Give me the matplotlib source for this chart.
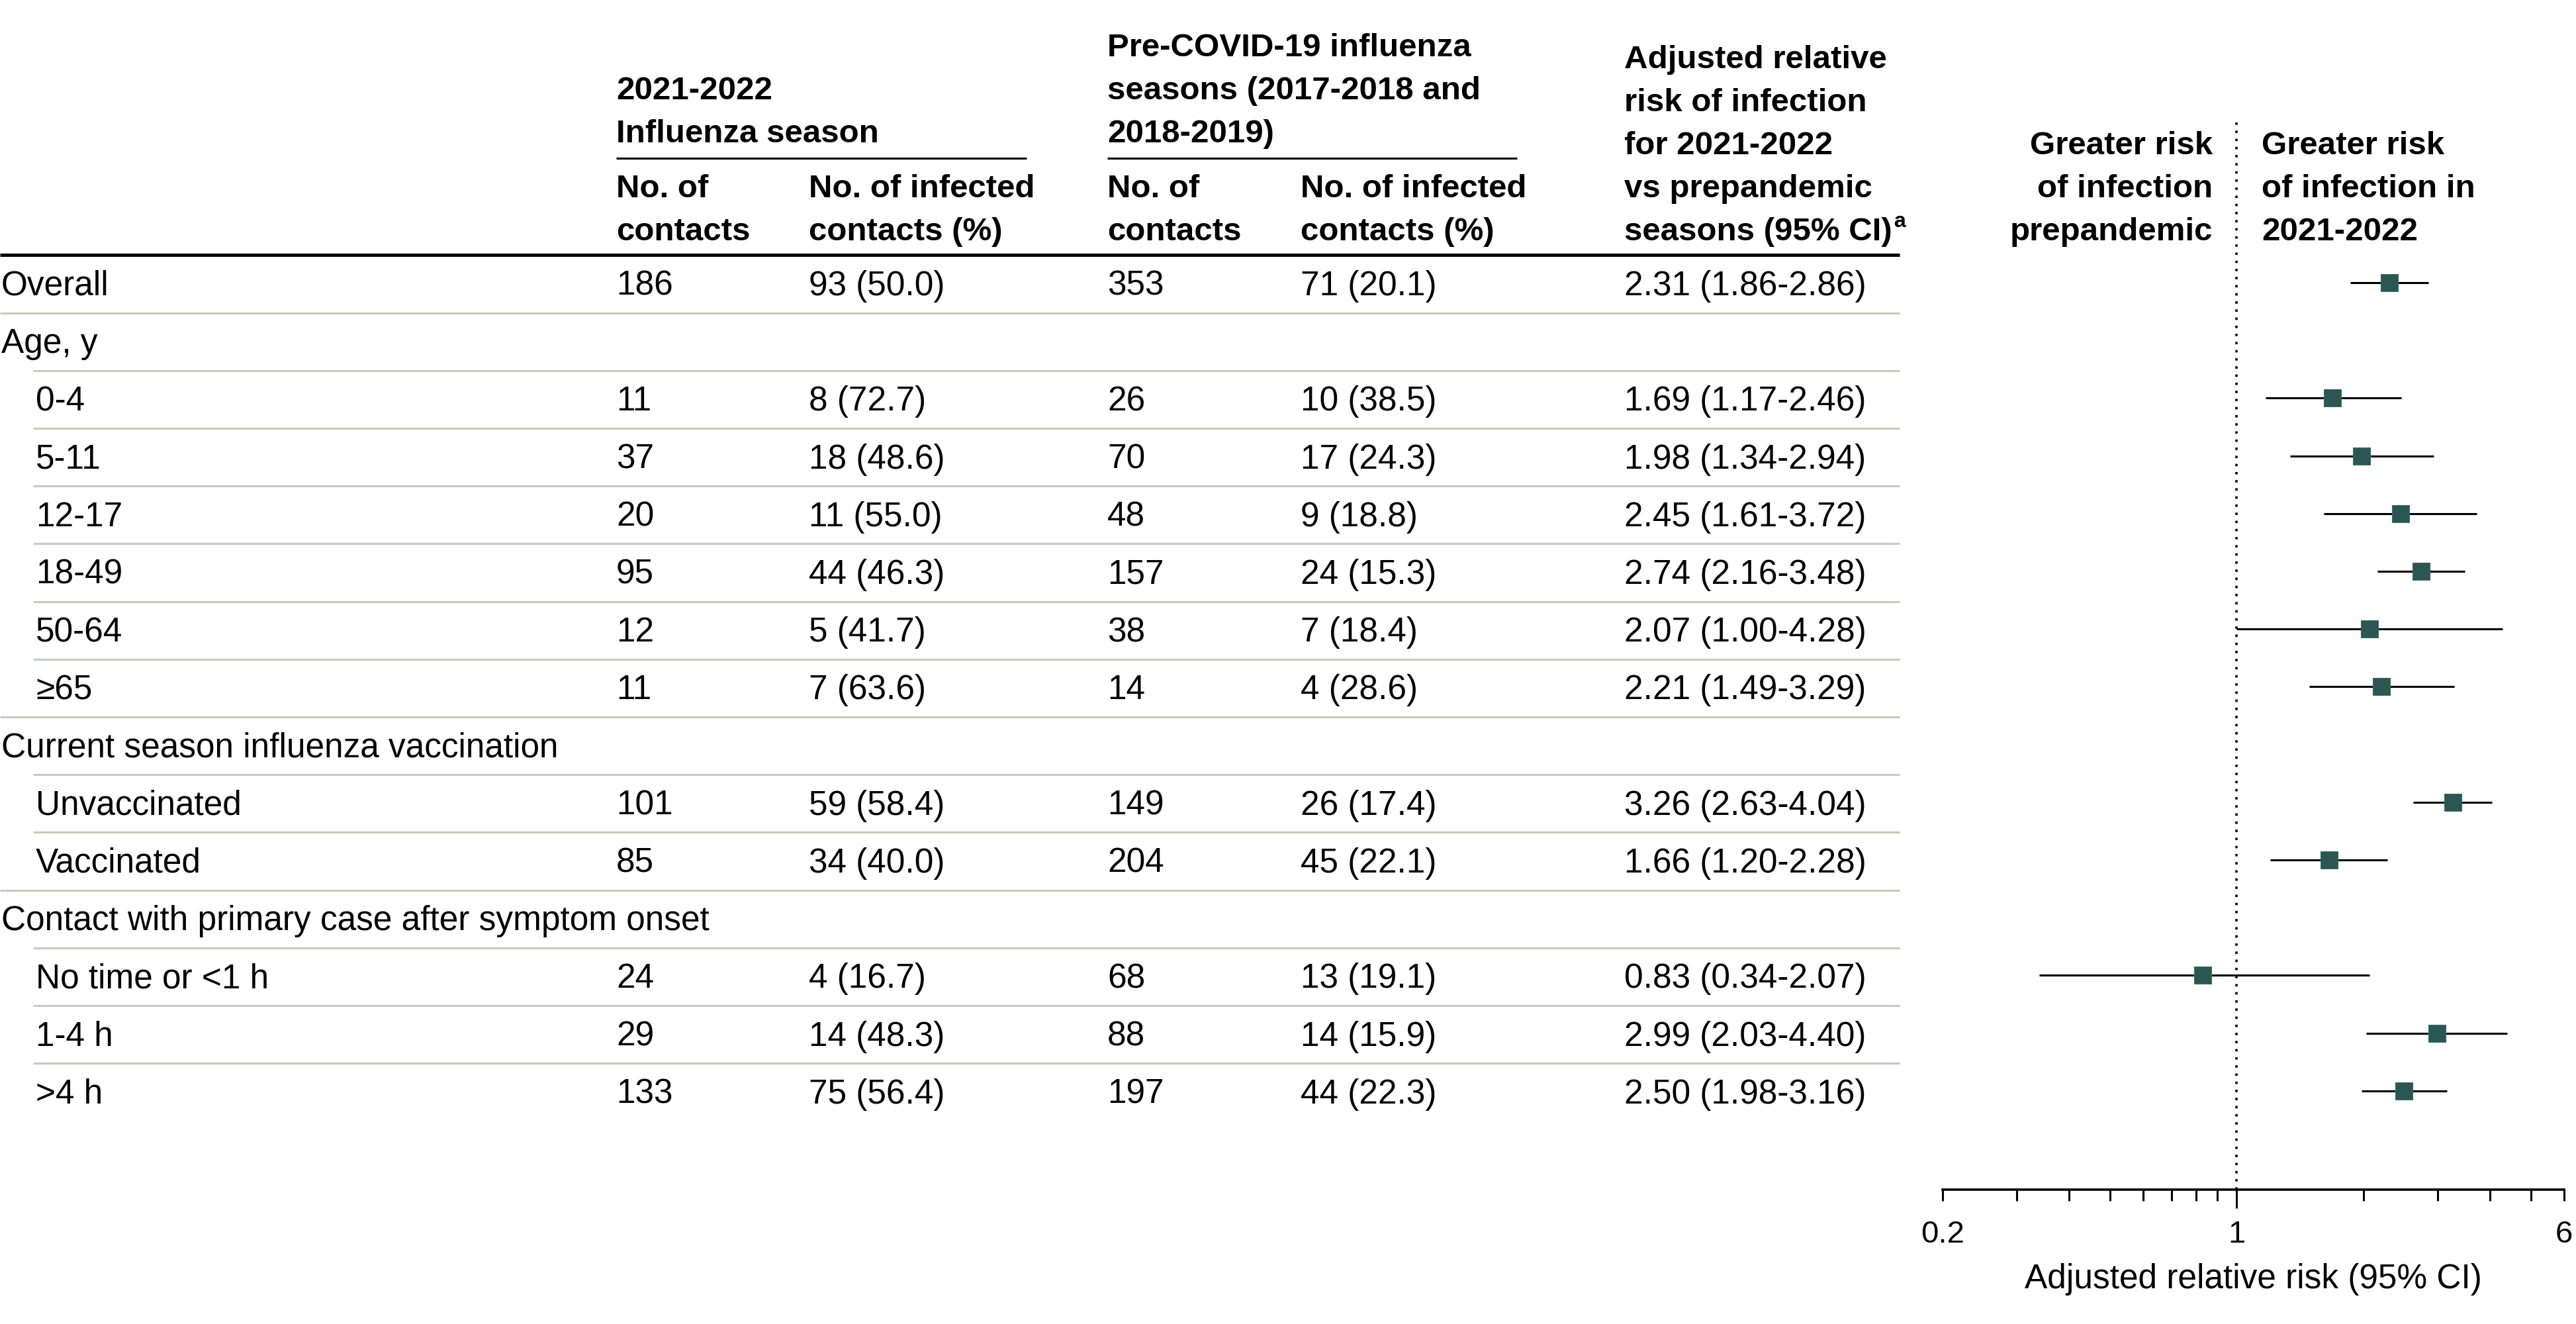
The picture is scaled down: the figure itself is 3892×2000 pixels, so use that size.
import matplotlib
matplotlib.use('Agg')
import matplotlib.pyplot as plt
from matplotlib import font_manager
from matplotlib.ticker import NullFormatter

# ---- data ----
row_labels = ['Overall', 'Age, y', '0-4', '5-11', '12-17', '18-49', '50-64', '≥65',
              'Current season influenza vaccination', 'Unvaccinated', 'Vaccinated',
              'Contact with primary case after symptom onset',
              'No time or <1 h', '1-4 h', '>4 h']
indent = [0, 0, 1, 1, 1, 1, 1, 1, 0, 1, 1, 0, 1, 1, 1]

n_cur = [186, None, 11, 37, 20, 95, 12, 11, None, 101, 85, None, 24, 29, 133]
inf_cur = [93, None, 8, 18, 11, 44, 5, 7, None, 59, 34, None, 4, 14, 75]
pct_cur = [50.0, None, 72.7, 48.6, 55.0, 46.3, 41.7, 63.6, None, 58.4, 40.0, None, 16.7, 48.3, 56.4]

n_pre = [353, None, 26, 70, 48, 157, 38, 14, None, 149, 204, None, 68, 88, 197]
inf_pre = [71, None, 10, 17, 9, 24, 7, 4, None, 26, 45, None, 13, 14, 44]
pct_pre = [20.1, None, 38.5, 24.3, 18.8, 15.3, 18.4, 28.6, None, 17.4, 22.1, None, 19.1, 15.9, 22.3]

rr = [2.31, None, 1.69, 1.98, 2.45, 2.74, 2.07, 2.21, None, 3.26, 1.66, None, 0.83, 2.99, 2.50]
rr_lo = [1.86, None, 1.17, 1.34, 1.61, 2.16, 1.00, 1.49, None, 2.63, 1.20, None, 0.34, 2.03, 1.98]
rr_hi = [2.86, None, 2.46, 2.94, 3.72, 3.48, 4.28, 3.29, None, 4.04, 2.28, None, 2.07, 4.40, 3.16]

x_ticks = [0.2, 1, 6]
x_tick_labels = ['0.2', '1', '6']
x_minor = [0.3, 0.4, 0.5, 0.6, 0.7, 0.8, 0.9, 2, 3, 4, 5]

# ---- font ----
avail = {f.name for f in font_manager.fontManager.ttflist}
base_font = 'Liberation Sans' if 'Liberation Sans' in avail else 'DejaVu Sans'
plt.rcParams['font.family'] = [base_font, 'DejaVu Sans']

W, H = 3892, 2000
FS = 37      # body text
FS_H = 35.5  # bold headers
teal = '#2b5654'
sep_color = '#c6cbbb'

fig = plt.figure(figsize=(W / 100, H / 100), dpi=100)
tab = fig.add_axes([0, 0, 1, 1])
tab.set_xlim(0, W)
tab.set_ylim(H, 0)
tab.axis('off')

row0, row_h = 427, 87.2


def row_y(i):
    return row0 + row_h * i


def stack(x, last_base, text, ha='left', weight='bold', size=FS_H):
    # draw multi-line header from the bottom line up
    lines = text.split('\n')
    t = None
    for k, ln in enumerate(lines):
        y = last_base - 65 * (len(lines) - 1 - k)
        t = tab.text(x, y, ln, ha=ha, va='baseline', fontsize=size, fontweight=weight)
    return t


# column x positions
c_lab, c_ind = 2, 54
c1, c2, c3, c4, c5 = 931, 1222, 1673, 1965, 2454
tab_right = 2870

# group headers
stack(c1, 215, '2021-2022\nInfluenza season')
stack(c3, 215, 'Pre-COVID-19 influenza\nseasons (2017-2018 and\n2018-2019)')
tab.hlines(239, c1, 1551, color='black', lw=2.2)
tab.hlines(239, c3, 2292, color='black', lw=2.2)

# column headers
stack(c1, 363, 'No. of\ncontacts')
stack(c2, 363, 'No. of infected\ncontacts (%)')
stack(c3, 363, 'No. of\ncontacts')
stack(c4, 363, 'No. of infected\ncontacts (%)')
last = stack(c5, 363, 'Adjusted relative\nrisk of infection\nfor 2021-2022\nvs prepandemic\nseasons (95% CI)')
renderer = fig.canvas.get_renderer()
bb = last.get_window_extent(renderer)
tab.text(bb.x1 + 2, 363 - 20, 'a', ha='left', va='baseline', fontsize=23, fontweight='bold')

tab.hlines(385, 0, tab_right, color='black', lw=3.6)

# body rows
for i, lab in enumerate(row_labels):
    yb = row_y(i) + 19
    tab.text(c_ind if indent[i] else c_lab, yb, lab, va='baseline', fontsize=FS)
    if n_cur[i] is not None:
        tab.text(c1, yb, str(n_cur[i]), va='baseline', fontsize=FS)
        tab.text(c2, yb, f'{inf_cur[i]} ({pct_cur[i]:.1f})', va='baseline', fontsize=FS)
        tab.text(c3, yb, str(n_pre[i]), va='baseline', fontsize=FS)
        tab.text(c4, yb, f'{inf_pre[i]} ({pct_pre[i]:.1f})', va='baseline', fontsize=FS)
        tab.text(c5, yb, f'{rr[i]:.2f} ({rr_lo[i]:.2f}-{rr_hi[i]:.2f})', va='baseline', fontsize=FS)
    if i < len(row_labels) - 1:
        ys = (row_y(i) + row_y(i + 1)) / 2 + 2
        tab.hlines(ys, 50 if indent[i + 1] else 0, tab_right, color=sep_color, lw=2.2)

# ---- forest plot ----
fx0, fx1, ftop, fbot = 2935, 3874, 180, 1797
fax = fig.add_axes([fx0 / W, 1 - fbot / H, (fx1 - fx0) / W, (fbot - ftop) / H])
fax.set_xscale('log')
fax.set_xlim(0.2, 6)
fax.set_ylim((fbot - row0) / row_h, (ftop - row0) / row_h)
fax.patch.set_alpha(0)

fax.axvline(1, color='black', ls=(0, (1, 2.4)), lw=2.6, zorder=1)
for i in range(len(rr)):
    if rr[i] is None:
        continue
    fax.hlines(i, rr_lo[i], rr_hi[i], color='black', lw=2.2, zorder=2)
    fax.plot(rr[i], i, 's', ms=18.5, color=teal, mec='#3d6b69', mew=0.8, zorder=3)

for s in ['top', 'left', 'right']:
    fax.spines[s].set_visible(False)
fax.spines['bottom'].set_linewidth(2.6)
fax.set_yticks([])
fax.set_xticks(x_ticks)
fax.set_xticklabels(x_tick_labels)
fax.set_xticks(x_minor, minor=True)
fax.xaxis.set_minor_formatter(NullFormatter())
fax.tick_params(axis='x', which='both', direction='out', length=12.2, width=2.2,
                labelsize=34, pad=21)
fax.xaxis.get_major_ticks()[1].tick1line.set_markersize(20.5)
fax.set_xlabel('Adjusted relative risk (95% CI)', fontsize=FS)
fax.xaxis.set_label_coords(0.5, -(1908 - fbot) / (fbot - ftop))

# direction labels
stack(3343, 363, 'Greater risk\nof infection\nprepandemic', ha='right')
stack(3417, 363, 'Greater risk\nof infection in\n2021-2022', ha='left')

fig.savefig('out.png', dpi=100)
